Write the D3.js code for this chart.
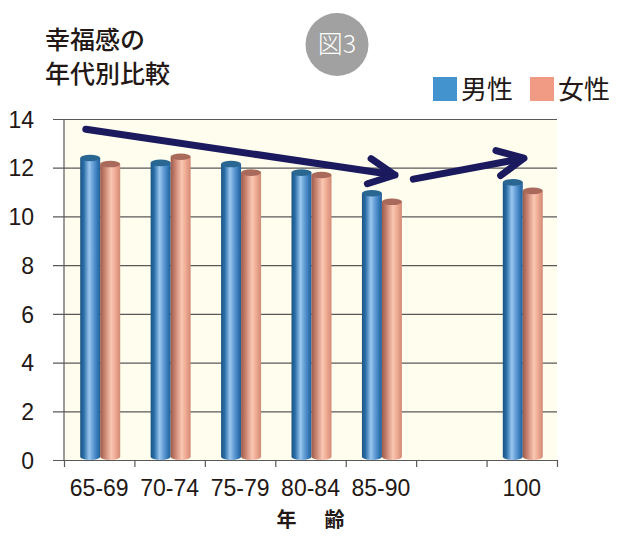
<!DOCTYPE html>
<html>
<head>
<meta charset="utf-8">
<script src="https://cdn.jsdelivr.net/npm/d3@7"></script>
<style>
  html, body { margin: 0; padding: 0; background: #fff; }
  svg text { fill: #231815; }
</style>
</head>
<body>
<div id="chart"></div>
<script>
var categories = ["65-69", "70-74", "75-79", "80-84", "85-90", "90-99", "100"];
var tickLabels = ["65-69", "70-74", "75-79", "80-84", "85-90", "", "100"];
var maleValues = [12.4, 12.2, 12.15, 11.8, 10.95, null, 11.4];
var femaleValues = [12.15, 12.45, 11.8, 11.7, 10.6, null, 11.05];
var yTicks = [0, 2, 4, 6, 8, 10, 12, 14];
var seriesNames = ["男性", "女性"];
// trend arrows, x in category slots, y in chart units
var arrows = [
  { from: [0.31, 13.58], to: [4.70, 11.7] },
  { from: [4.96, 11.53], to: [6.53, 12.39] }
];

var width = 627, height = 537;
var plotLeft = 64, plotRight = 557, plotTop = 119, plotBottom = 460;
var axisFont = '"Liberation Sans Narrow", "Liberation Sans", sans-serif';

var svg = d3.select('#chart')
  .append('svg')
  .attr('width', width)
  .attr('height', height);

var defs = svg.append('defs');

function cylGradient(id, stops) {
  var g = defs.append('linearGradient')
    .attr('id', id)
    .attr('x1', '0%').attr('x2', '100%')
    .attr('y1', '0%').attr('y2', '0%');
  stops.forEach(function(s) {
    g.append('stop').attr('offset', s[0]).attr('stop-color', s[1]);
  });
}
cylGradient('blueCyl', [['0%', '#1a5482'], ['18%', '#2b6ea8'], ['45%', '#9ac7ef'], ['62%', '#6aa2da'], ['85%', '#3579b8'], ['100%', '#255f94']]);
cylGradient('pinkCyl', [['0%', '#9a5c4e'], ['20%', '#c47d6a'], ['55%', '#f9c7b2'], ['75%', '#f0ab94'], ['100%', '#d08a76']]);

var x = d3.scaleBand()
  .domain(categories)
  .range([plotLeft, plotRight])
  .padding(0);

var slot = d3.scaleLinear()
  .domain([0, categories.length])
  .range([plotLeft, plotRight]);

var y = d3.scaleLinear()
  .domain([0, 14])
  .range([plotBottom, plotTop]);

// plot background
svg.append('rect')
  .attr('x', plotLeft)
  .attr('y', y(14))
  .attr('width', plotRight - plotLeft)
  .attr('height', y(0) - y(14))
  .attr('fill', '#fffdee');

// y axis with gridlines
var yAxis = svg.append('g')
  .attr('transform', 'translate(53,0)')
  .call(d3.axisLeft(y).tickValues(yTicks).tickSize(0).tickPadding(19));
yAxis.select('.domain').remove();
yAxis.selectAll('.tick line')
  .attr('x1', 0)
  .attr('x2', plotRight - 53)
  .attr('stroke', '#5a5858')
  .attr('stroke-width', 1.2);
yAxis.selectAll('.tick text')
  .attr('font-family', axisFont)
  .attr('font-size', 23)
  .attr('dy', '0.36em');

// left axis line
svg.append('line')
  .attr('x1', plotLeft).attr('x2', plotLeft)
  .attr('y1', y(14)).attr('y2', y(0))
  .attr('stroke', '#5a5858')
  .attr('stroke-width', 1.2);

// x ticks at slot boundaries
var xTickAxis = svg.append('g')
  .attr('transform', 'translate(0,' + plotBottom + ')')
  .call(d3.axisBottom(slot).tickValues(d3.range(categories.length + 1)).tickSize(7).tickFormat(''));
xTickAxis.select('.domain').remove();
xTickAxis.selectAll('.tick line').attr('stroke', '#5a5858').attr('stroke-width', 1.2);

// x labels
var xLabelAxis = svg.append('g')
  .attr('transform', 'translate(0,' + plotBottom + ')')
  .call(d3.axisBottom(x).tickSize(0).tickPadding(20).tickFormat(function(d, i) { return tickLabels[i]; }));
xLabelAxis.select('.domain').remove();
xLabelAxis.selectAll('.tick text')
  .attr('font-family', axisFont)
  .attr('font-size', 23);

// cylinders
var barW = 20, ry = 3.3;
var rows = categories.map(function(c, i) {
  return { cat: c, male: maleValues[i], female: femaleValues[i] };
});

function cylinder(g, cx, v, grad, capColor) {
  var yt = y(v), yb = y(0);
  g.append('path')
    .attr('d', 'M' + (cx - barW / 2) + ',' + yt +
      'L' + (cx - barW / 2) + ',' + (yb - ry) +
      'A' + (barW / 2) + ',' + ry + ' 0 0 0 ' + (cx + barW / 2) + ',' + (yb - ry) +
      'L' + (cx + barW / 2) + ',' + yt + 'Z')
    .attr('fill', 'url(#' + grad + ')');
  g.append('ellipse')
    .attr('cx', cx).attr('cy', yt)
    .attr('rx', barW / 2).attr('ry', ry)
    .attr('fill', capColor);
}

var groups = svg.selectAll('.pair')
  .data(rows.filter(function(d) { return d.male != null; }))
  .enter()
  .append('g')
  .attr('class', 'pair');

groups.each(function(d) {
  var g = d3.select(this);
  var c = x(d.cat) + x.bandwidth() / 2 + 1;
  cylinder(g, c - barW / 2, d.male, 'blueCyl', '#296792');
  cylinder(g, c + barW / 2, d.female, 'pinkCyl', '#a96a5b');
});

// arrows
var armLen = 29, armAng = 26 * Math.PI / 180;
arrows.forEach(function(a) {
  var x0 = slot(a.from[0]), y0 = y(a.from[1]);
  var x1 = slot(a.to[0]), y1 = y(a.to[1]);
  var ang = Math.atan2(y1 - y0, x1 - x0);
  var p1 = [x1 - armLen * Math.cos(ang - armAng), y1 - armLen * Math.sin(ang - armAng)];
  var p2 = [x1 - armLen * Math.cos(ang + armAng), y1 - armLen * Math.sin(ang + armAng)];
  var line = d3.line();
  svg.append('path')
    .attr('d', line([[x0, y0], [x1, y1]]) + line([p1, [x1, y1], p2]))
    .attr('fill', 'none')
    .attr('stroke', '#1b1a5e')
    .attr('stroke-width', 7)
    .attr('stroke-linecap', 'round')
    .attr('stroke-linejoin', 'round');
});

// title
var titleFont = '"Noto Sans CJK JP", sans-serif';
svg.append('text')
  .attr('x', 45).attr('y', 49)
  .attr('font-family', titleFont)
  .attr('font-size', 25)
  .attr('font-weight', 500)
  .text('幸福感の');
svg.append('text')
  .attr('x', 45).attr('y', 83)
  .attr('font-family', titleFont)
  .attr('font-size', 25)
  .attr('font-weight', 500)
  .text('年代別比較');

// figure badge
svg.append('circle')
  .attr('cx', 337).attr('cy', 44.5).attr('r', 31.5)
  .attr('fill', '#a0a1a0');
svg.append('text')
  .attr('x', 337).attr('y', 53)
  .attr('text-anchor', 'middle')
  .attr('font-family', titleFont)
  .attr('font-size', 25)
  .attr('font-weight', 300)
  .style('fill', '#fff')
  .text('図3');

// legend
var legendColors = ['#4393cf', '#f19b85'];
var legendX = [433, 530];
seriesNames.forEach(function(name, i) {
  svg.append('rect')
    .attr('x', legendX[i]).attr('y', 77)
    .attr('width', 24).attr('height', 24)
    .attr('fill', legendColors[i]);
  svg.append('text')
    .attr('x', legendX[i] + 28).attr('y', 99)
    .attr('font-family', titleFont)
    .attr('font-size', 26)
    .text(name);
});

// x axis title
svg.append('text')
  .attr('x', (plotLeft + plotRight) / 2 + 2).attr('y', 527)
  .attr('text-anchor', 'middle')
  .attr('font-family', titleFont)
  .attr('font-size', 20)
  .attr('font-weight', 700)
  .attr('letter-spacing', 4)
  .attr('xml:space', 'preserve')
  .text('年　齢');
</script>
</body>
</html>
